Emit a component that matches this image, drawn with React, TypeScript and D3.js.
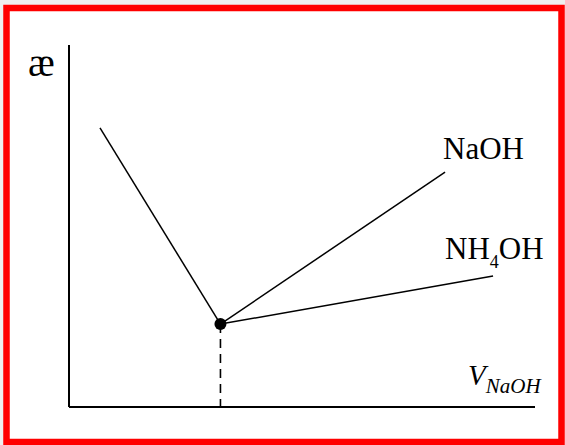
import React from "react";
import * as d3 from "d3";

// Conductometric titration curve: conductivity (æ) vs volume of NaOH
const W = 565;
const H = 445;

// Descending branch then two alternative ascending branches after the equivalence point
const startPoint = { v: 6.65, k: 77.1 };
const equivalence = { v: 32.5, k: 22.9 };
const branchNames = ["NaOH", "NH4OH"];
const branchEnds = [
  { v: 80.7, k: 64.9 },
  { v: 91.0, k: 36.2 },
];

const x = d3.scaleLinear().domain([0, 100]).range([69, 535]);
const y = d3.scaleLinear().domain([0, 100]).range([407, 45]);

const line = d3
  .line<{ v: number; k: number }>()
  .x((d) => x(d.v))
  .y((d) => y(d.k));

export default function App() {
  const font = "'Liberation Serif', 'Times New Roman', serif";
  return (
    <svg
      width={W}
      height={H}
      style={{ position: "fixed", left: 0, top: 0, background: "#efefef" }}
    >
      <rect x={6.5} y={8} width={555} height={434} fill="#fff" stroke="#ff0000" strokeWidth={6.5} />

      {/* axes */}
      <line x1={x(0)} y1={y(100)} x2={x(0)} y2={y(0)} stroke="#000" strokeWidth={2} />
      <line x1={x(0)} y1={y(0)} x2={x(100)} y2={y(0)} stroke="#000" strokeWidth={2} />

      {/* titration curve */}
      <path d={line([startPoint, equivalence]) ?? ""} fill="none" stroke="#000" strokeWidth={1.5} />
      {branchEnds.map((e, i) => (
        <path key={i} d={line([equivalence, e]) ?? ""} fill="none" stroke="#000" strokeWidth={1.5} />
      ))}

      {/* equivalence point drop line */}
      <line
        x1={x(equivalence.v)}
        y1={y(equivalence.k)}
        x2={x(equivalence.v)}
        y2={y(0)}
        stroke="#000"
        strokeWidth={1.6}
        strokeDasharray="9,6"
      />
      <circle cx={x(equivalence.v)} cy={y(equivalence.k)} r={6} fill="#000" />

      {/* labels */}
      <text x={28} y={76} fontFamily={font} fontSize={40}>æ</text>
      <text x={443} y={159} fontFamily={font} fontSize={31}>{branchNames[0]}</text>
      <text x={445} y={259} fontFamily={font} fontSize={31}>
        NH<tspan fontSize={18} dy={9}>4</tspan>
        <tspan dy={-9}>OH</tspan>
      </text>
      <text x={468} y={385} fontFamily={font} fontSize={29} fontStyle="italic">
        V<tspan fontSize={21} dy={8}>NaOH</tspan>
      </text>
    </svg>
  );
}
